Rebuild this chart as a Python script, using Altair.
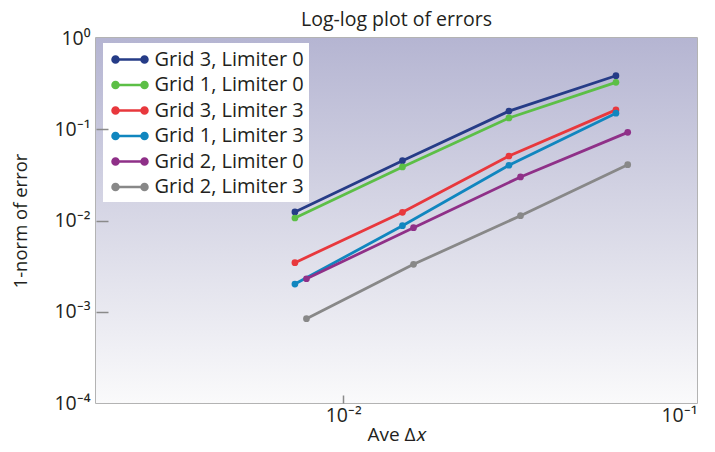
import altair as alt
import pandas as pd

series_names = ["Grid 3, Limiter 0", "Grid 1, Limiter 0", "Grid 3, Limiter 3",
                "Grid 1, Limiter 3", "Grid 2, Limiter 0", "Grid 2, Limiter 3"]
series_colors = ["#263c87", "#5cbf46", "#e8383d", "#1086bf", "#8f3088", "#888888"]

dx_grid13 = [0.0073, 0.0147, 0.0294, 0.059]
dx_grid2 = [0.00787, 0.0158, 0.0317, 0.0637]

err_g3_l0 = [0.0124, 0.0452, 0.158, 0.386]
err_g1_l0 = [0.01065, 0.0386, 0.133, 0.327]
err_g3_l3 = [0.00345, 0.0123, 0.0509, 0.163]
err_g1_l3 = [0.00201, 0.00877, 0.0403, 0.150]
err_g2_l0 = [0.00230, 0.00834, 0.0300, 0.0925]
err_g2_l3 = [0.000839, 0.00331, 0.0113, 0.0409]

y_tick_values = [0.0001, 0.001, 0.01, 0.1, 1]
x_tick_values = [0.01, 0.1]

series_x = [dx_grid13, dx_grid13, dx_grid13, dx_grid13, dx_grid2, dx_grid2]
series_y = [err_g3_l0, err_g1_l0, err_g3_l3, err_g1_l3, err_g2_l0, err_g2_l3]

rows = []
for name, xs, ys in zip(series_names, series_x, series_y):
    for i, (xv, yv) in enumerate(zip(xs, ys)):
        rows.append({"series": name, "dx": xv, "err": yv, "order": i})
df = pd.DataFrame(rows)

FONT = "Open Sans"
TXT = "#231f20"
W, H = 601, 365

label_expr = ("datum.value >= 0.5 ? '10⁰' : datum.value >= 0.05 ? '10⁻¹' : "
              "datum.value >= 0.005 ? '10⁻²' : datum.value >= 0.0005 ? '10⁻³' : '10⁻⁴'")

xscale = alt.Scale(type="log", domain=[0.002, 0.1], nice=False)
yscale = alt.Scale(type="log", domain=[0.0001, 1], nice=False)

sym_path = ("M-1.75,0L1.75,0"
            "M-1.75,0a0.3,0.3 0 1,0 0.6,0a0.3,0.3 0 1,0 -0.6,0"
            "M1.15,0a0.3,0.3 0 1,0 0.6,0a0.3,0.3 0 1,0 -0.6,0")

color = alt.Color(
    "series:N",
    scale=alt.Scale(domain=series_names, range=series_colors),
    sort=series_names,
    legend=alt.Legend(
        title=None, orient="none", legendX=7, legendY=5,
        fillColor="white", padding=5,
        symbolType=sym_path, symbolSize=400, symbolStrokeWidth=2.5,
        symbolOffset=10.5, labelOffset=13,
        labelFont=FONT, labelFontSize=20, labelColor=TXT, rowPadding=3.5,
    ),
)

x_main = alt.X("dx:Q", scale=xscale, axis=alt.Axis(
    orient="bottom", values=x_tick_values, labelExpr=label_expr,
    ticks=False, domain=False, grid=False, labelPadding=3,
    labelFont=FONT, labelFontSize=19.5, labelColor=TXT,
    title="Ave Δ𝑥", titleFont=FONT, titleFontSize=19, titleFontWeight="normal",
    titleColor=TXT, titleY=37, titleBaseline="alphabetic"))
y_main = alt.Y("err:Q", scale=yscale, axis=alt.Axis(
    orient="left", values=y_tick_values, labelExpr=label_expr,
    ticks=False, domain=False, grid=False, labelPadding=6,
    labelFont=FONT, labelFontSize=19.5, labelColor=TXT,
    title="1-norm of error", titleFont=FONT, titleFontSize=18.5, titleFontWeight="normal",
    titleColor=TXT, titleX=-70, titleY=H / 2, titleAngle=-90, titleBaseline="alphabetic",
    titleAlign="center"))

gradient = alt.LinearGradient(
    gradient="linear", x1=0, x2=0, y1=0, y2=1,
    stops=[alt.GradientStop(color="#b5b5d2", offset=0),
           alt.GradientStop(color="#d8d8e6", offset=0.5),
           alt.GradientStop(color="#fafafb", offset=1)])

background = alt.Chart(alt.Data(values=[{"bg": 1}])).mark_rect(
    fill=gradient, strokeWidth=0).encode(
    x=alt.value(0), x2=alt.value(W), y=alt.value(0), y2=alt.value(H))

base = alt.Chart(df)

lines = base.mark_line(strokeWidth=2.8).encode(
    x=x_main, y=y_main, color=color, order="order:Q")
points = base.mark_circle(size=45, opacity=1).encode(
    x=alt.X("dx:Q", scale=xscale, axis=None),
    y=alt.Y("err:Q", scale=yscale, axis=None), color=color)

ticks_layer = base.mark_line(opacity=0).encode(
    x=alt.X("dx:Q", scale=xscale, axis=alt.Axis(
        orient="top", offset=-H, values=[0.01], labels=False, domain=False, zindex=1,
        grid=False, ticks=True, tickSize=8, tickColor="#8a8a8a", tickWidth=1.5, title=None)),
    y=alt.Y("err:Q", scale=yscale, axis=alt.Axis(
        orient="right", offset=-W, values=[0.001, 0.01, 0.1], labels=False, domain=False,
        zindex=1,
        grid=False, ticks=True, tickSize=12, tickColor="#8a8a8a", tickWidth=1.5, title=None)),
    detail="series:N",
)

chart = alt.layer(background, lines, points, ticks_layer).resolve_axis(
    x="independent", y="independent"
).properties(
    width=W, height=H,
    title=alt.TitleParams("Log-log plot of errors", font=FONT, fontSize=19.5,
                          fontWeight="normal", color=TXT, anchor="middle", offset=0, dy=2),
    autosize=alt.AutoSizeParams(type="none"),
    padding={"left": 88, "top": 30, "right": 10, "bottom": 41},
).configure_view(
    stroke="#9a9a9a", strokeWidth=1.5,
)

chart.save("out.html", embed_options={"renderer": "svg", "actions": False})
